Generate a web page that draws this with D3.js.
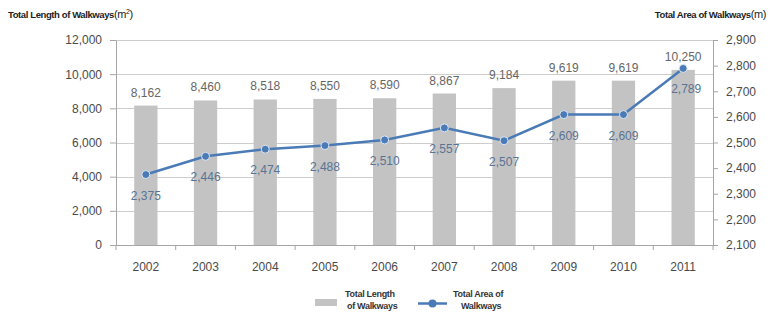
<!DOCTYPE html>
<html>
<head>
<meta charset="utf-8">
<script src="https://cdn.jsdelivr.net/npm/d3@7"></script>
<style>
  body { margin: 0; background: #fff; }
  text { font-family: "Liberation Sans", Arial, sans-serif; }
</style>
</head>
<body>
<div id="chart"></div>
<script>
const years = ["2002", "2003", "2004", "2005", "2006", "2007", "2008", "2009", "2010", "2011"]
const lengthValues = [8162, 8460, 8518, 8550, 8590, 8867, 9184, 9619, 9619, 10250]
const areaValues = [2375, 2446, 2474, 2488, 2510, 2557, 2507, 2609, 2609, 2789]
const leftTicks = [0, 2000, 4000, 6000, 8000, 10000, 12000]
const rightTicks = [2100, 2200, 2300, 2400, 2500, 2600, 2700, 2800, 2900]

const width = 775, height = 321
const margin = { top: 40, left: 116, bottom: 76, right: 62 }
const innerW = width - margin.left - margin.right
const innerH = height - margin.top - margin.bottom

const svg = d3.select("#chart").append("svg").attr("width", width).attr("height", height)
const g = svg.append("g").attr("transform", `translate(${margin.left}, ${margin.top})`)

const x = d3.scaleBand().domain(years).range([0, innerW])
const barW = x.bandwidth() * 0.39
const yL = d3.scaleLinear().domain([0, 12000]).range([innerH, 0])
const yR = d3.scaleLinear().domain([2100, 2900]).range([innerH, 0])
const fmt = d3.format(",")
const cx = i => x(years[i]) + x.bandwidth() / 2

// gridlines
g.append("g").selectAll("line").data(leftTicks.slice(1)).join("line")
  .attr("x1", 0).attr("x2", innerW)
  .attr("y1", d => Math.round(yL(d)) + 0.5).attr("y2", d => Math.round(yL(d)) + 0.5)
  .attr("stroke", "#cdcdcd").attr("stroke-width", 1)

// bars
g.append("g").selectAll("rect").data(lengthValues).join("rect")
  .attr("x", (d, i) => cx(i) - barW / 2)
  .attr("width", barW)
  .attr("y", d => yL(d))
  .attr("height", d => innerH - yL(d))
  .attr("fill", "#c3c3c3")

// axes
const axisStyle = sel => {
  sel.select(".domain").attr("stroke", "#a6a6a6")
  sel.selectAll(".tick line").attr("stroke", "#a6a6a6")
  sel.selectAll("text").attr("font-size", 12).attr("fill", "#4a4a4a")
    .attr("font-family", "'Liberation Sans', Arial, sans-serif")
}
g.append("g").call(d3.axisLeft(yL).tickValues(leftTicks).tickFormat(fmt).tickSize(6).tickSizeOuter(0).tickPadding(8)).call(axisStyle)
g.append("g").attr("transform", `translate(${innerW},0)`)
  .call(d3.axisRight(yR).tickValues(rightTicks).tickFormat(fmt).tickSize(5).tickSizeOuter(0).tickPadding(8)).call(axisStyle)

const xAxisG = g.append("g").attr("transform", `translate(0,${innerH})`)
  .call(d3.axisBottom(x).tickSize(0).tickPadding(17)).call(axisStyle)
xAxisG.select(".domain").remove()
g.append("line").attr("x1", 0).attr("x2", innerW).attr("y1", innerH + 0.5).attr("y2", innerH + 0.5).attr("stroke", "#a6a6a6")
g.append("g").selectAll("line").data(d3.range(years.length + 1)).join("line")
  .attr("x1", i => i * x.step()).attr("x2", i => i * x.step())
  .attr("y1", innerH).attr("y2", innerH + 5).attr("stroke", "#a6a6a6")

// bar value labels
g.append("g").selectAll("text").data(lengthValues).join("text")
  .attr("x", (d, i) => cx(i))
  .attr("y", d => yL(d) - 9)
  .attr("text-anchor", "middle").attr("font-size", 12).attr("fill", "#666")
  .text(d => fmt(d))

// line series
g.append("path").datum(areaValues)
  .attr("d", d3.line().x((d, i) => cx(i)).y(d => yR(d)))
  .attr("fill", "none").attr("stroke", "#4a7bb7").attr("stroke-width", 2.5)
g.append("g").selectAll("circle").data(areaValues).join("circle")
  .attr("cx", (d, i) => cx(i)).attr("cy", d => yR(d)).attr("r", 4)
  .attr("fill", "#4a7bb7").attr("stroke", "#dfe8f3").attr("stroke-width", 1)
g.append("g").selectAll("text").data(areaValues).join("text")
  .attr("x", (d, i) => cx(i) + (i === years.length - 1 ? 3 : 0))
  .attr("y", d => yR(d) + 25)
  .attr("text-anchor", "middle").attr("font-size", 12).attr("fill", "#5a7394")
  .text(d => fmt(d))

// axis titles
const leftTitle = svg.append("text").attr("x", 8).attr("y", 18)
  .attr("font-size", 9.5).attr("font-weight", "bold").attr("fill", "#222")
  .attr("font-family", "'DejaVu Sans Condensed', sans-serif").attr("letter-spacing", -0.4)
leftTitle.append("tspan").text("Total Length of Walkways")
leftTitle.append("tspan").attr("font-weight", "normal").attr("font-size", 11).text("(m")
leftTitle.append("tspan").attr("font-weight", "normal").attr("font-size", 7).attr("dy", -4).text("2")
leftTitle.append("tspan").attr("font-weight", "normal").attr("font-size", 11).attr("dy", 4).text(")")

const rightTitle = svg.append("text").attr("x", 766).attr("y", 18).attr("text-anchor", "end")
  .attr("font-size", 9.5).attr("font-weight", "bold").attr("fill", "#222")
  .attr("font-family", "'DejaVu Sans Condensed', sans-serif").attr("letter-spacing", -0.4)
rightTitle.append("tspan").text("Total Area of Walkways")
rightTitle.append("tspan").attr("font-weight", "normal").attr("font-size", 11).text("(m)")

// legend
const legend = svg.append("g").attr("font-family", "'DejaVu Sans Condensed', sans-serif")
  .attr("font-size", 9).attr("font-weight", "bold").attr("fill", "#333").attr("letter-spacing", -0.3)
legend.append("rect").attr("x", 315).attr("y", 299).attr("width", 22).attr("height", 7).attr("fill", "#c3c3c3")
legend.append("text").attr("x", 345).attr("y", 297).text("Total Length")
legend.append("text").attr("x", 347).attr("y", 309).text("of Walkways")
legend.append("line").attr("x1", 418).attr("x2", 447).attr("y1", 303.5).attr("y2", 303.5)
  .attr("stroke", "#4a7bb7").attr("stroke-width", 2.5)
legend.append("circle").attr("cx", 432.5).attr("cy", 303.5).attr("r", 4).attr("fill", "#4a7bb7")
legend.append("text").attr("x", 453).attr("y", 297).text("Total Area of")
legend.append("text").attr("x", 461).attr("y", 309).text("Walkways")
</script>
</body>
</html>
